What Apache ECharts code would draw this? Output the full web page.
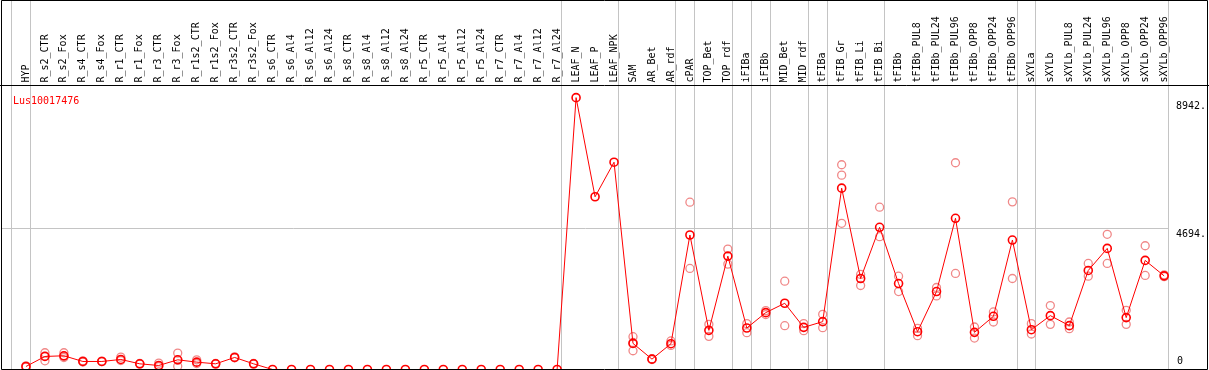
<!DOCTYPE html>
<html>
<head>
<meta charset="utf-8">
<script src="https://cdn.jsdelivr.net/npm/echarts@6/dist/echarts.min.js"></script>
<style>html,body{margin:0;padding:0;background:#fff;}#c{width:1209px;height:370px;}</style>
</head>
<body>
<div id="c"></div>
<script>
const categories = ["HYP","R_s2_CTR","R_s2_Fox","R_s4_CTR","R_s4_Fox","R_r1_CTR","R_r1_Fox","R_r3_CTR","R_r3_Fox","R_r1s2_CTR","R_r1s2_Fox","R_r3s2_CTR","R_r3s2_Fox","R_s6_CTR","R_s6_Al4","R_s6_Al12","R_s6_Al24","R_s8_CTR","R_s8_Al4","R_s8_Al12","R_s8_Al24","R_r5_CTR","R_r5_Al4","R_r5_Al12","R_r5_Al24","R_r7_CTR","R_r7_Al4","R_r7_Al12","R_r7_Al24","LEAF_N","LEAF_P","LEAF_NPK","SAM","AR_Bet","AR_rdf","cPAR","TOP_Bet","TOP_rdf","iFIBa","iFIBb","MID_Bet","MID_rdf","tFIBa","tFIB_Gr","tFIB_Li","tFIB_Bi","tFIBb","tFIBb_PUL8","tFIBb_PUL24","tFIBb_PUL96","tFIBb_OPP8","tFIBb_OPP24","tFIBb_OPP96","sXYLa","sXYLb","sXYLb_PUL8","sXYLb_PUL24","sXYLb_PUL96","sXYLb_OPP8","sXYLb_OPP24","sXYLb_OPP96"];

const meanValues = [100,434,457,267,267,334,189,134,323,245,189,401,189,0,0,0,0,0,0,0,0,0,0,0,0,0,0,0,0,9050,5750,6900,869,345,858,4477,1303,3775,1381,1893,2205,1403,1593,6036,3029,4733,2862,1259,2595,5034,1236,1771,4310,1325,1793,1459,3297,4031,1727,3631,3117];

const rep1 = [80,557,557,290,280,411,200,212,546,323,200,420,200,null,null,null,null,null,null,null,null,null,null,null,null,null,null,null,null,null,null,null,1092,360,950,5569,1503,4009,1526,1960,2940,1526,1838,6816,3164,5402,3107,1370,2730,6882,1414,1915,5580,1526,2128,1581,3531,4500,1971,4120,3150];
const rep2 = [120,290,434,250,260,300,180,100,111,200,180,390,180,null,null,null,null,null,null,null,null,null,null,null,null,null,null,null,null,null,null,null,624,330,800,3364,1103,3508,1226,1830,1459,1292,1392,4867,2796,4420,2595,1126,2450,3197,1046,1581,3029,1181,1503,1359,3107,3531,1503,3130,3090];
const rep3 = [null,450,400,null,null,null,null,null,310,null,null,null,null,null,null,null,null,null,null,null,null,null,null,null,null,null,null,null,null,null,null,null,900,null,null,null,null,null,null,null,null,null,null,6470,null,null,null,null,null,null,null,null,null,null,null,null,null,null,null,null,null];

const yTickValues = [4694, 8942];
const yZeroTick = [0];
const groupSeparators = [-0.77, 0.23, 28.23, 31.23, 34.23, 35.23, 37.23, 38.23, 39.23, 41.23, 42.23, 45.23, 52.23, 53.23, 60.23];
const geneName = "Lus10017476";

const FONT = "DejaVu Sans Mono";

const meanData = meanValues.map((v, i) => [i, v]);
const repData = [];
[rep1, rep2, rep3].forEach(arr => arr.forEach((v, i) => { if (v !== null) repData.push([i, v]); }));

const chart = echarts.init(document.getElementById('c'), null, {renderer: 'canvas'});
chart.setOption({
  animation: false,
  backgroundColor: '#fff',
  title: {
    text: geneName, left: 8, top: 91,
    textStyle: {color: '#ff0000', fontFamily: FONT, fontSize: 10, fontWeight: 'normal'}
  },
  grid: {left: 2, right: 38.25, top: 0, bottom: 0.5, containLabel: false},
  xAxis: {
    type: 'value', position: 'top', offset: -85.5,
    min: -24 / 19, max: 60.25,
    axisLine: {show: false}, axisTick: {show: false}, splitLine: {show: false},
    axisLabel: {
      customValues: categories.map((_, i) => i),
      formatter: v => categories[Math.round(v)],
      rotate: 90, margin: 3, color: '#000', fontFamily: FONT, fontSize: 10
    }
  },
  yAxis: [{
    type: 'value', position: 'right', min: 0, max: 12300,
    axisLine: {show: false}, axisTick: {show: false}, splitLine: {show: false},
    axisLabel: {
      customValues: yTickValues, formatter: v => v + '.',
      color: '#000', fontFamily: FONT, fontSize: 10, margin: 7, verticalAlign: 'top', padding: [1,0,0,0]
    }
  }, {
    type: 'value', position: 'right', min: 0, max: 12300,
    axisLine: {show: false}, axisTick: {show: false}, splitLine: {show: false},
    axisLabel: {
      customValues: yZeroTick, formatter: v => String(v),
      color: '#000', fontFamily: FONT, fontSize: 10, margin: 8, verticalAlign: 'bottom', padding: [0,0,3,0]
    }
  }],
  graphic: [
    {type: 'rect', silent: true, z: 100, shape: {x: 1.5, y: 0.5, width: 1206, height: 369}, style: {fill: 'none', stroke: '#000', lineWidth: 1}},
    {type: 'line', silent: true, z: 100, shape: {x1: 0, y1: 85.5, x2: 1209, y2: 85.5}, style: {stroke: '#000', lineWidth: 1}}
  ],
  series: [{
    type: 'scatter', data: repData, z: 2,
    symbol: 'circle', symbolSize: 8,
    itemStyle: {color: 'rgba(0,0,0,0)', borderColor: '#f08888', borderWidth: 1.3, opacity: 1},
    silent: true
  }, {
    type: 'line', data: meanData, z: 3,
    showAllSymbol: true,
    symbol: 'circle', symbolSize: 8,
    lineStyle: {color: '#ff0000', width: 1},
    itemStyle: {color: 'rgba(0,0,0,0)', borderColor: '#ff0000', borderWidth: 1.6},
    silent: true,
    markLine: {
      silent: true, z: 1, symbol: ['none', 'none'],
      label: {show: false},
      lineStyle: {color: '#c4c4c4', width: 1, type: 'solid'},
      data: [{yAxis: 4694}].concat(groupSeparators.map(s => ({xAxis: s})))
    }
  }]
});
</script>
</body>
</html>
